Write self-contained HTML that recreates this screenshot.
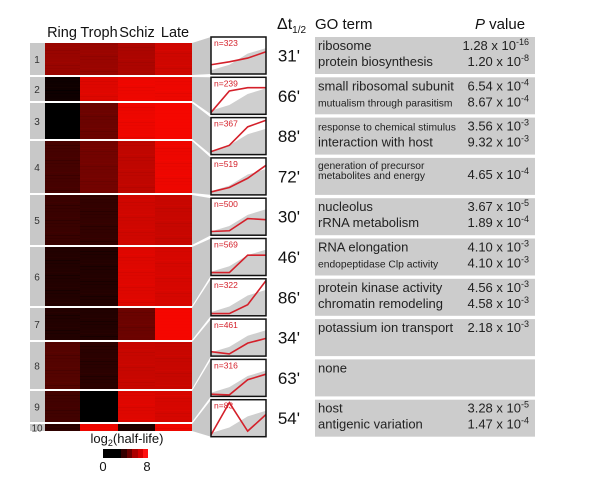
<!DOCTYPE html>
<html><head><meta charset="utf-8"><style>
body{margin:0;background:#fff;width:600px;height:489px;overflow:hidden}
svg{display:block;font-family:"Liberation Sans",Arial,sans-serif}
</style></head><body>
<svg id="fig" width="600" height="489" viewBox="0 0 600 489">
  <g id="heat"></g>
  <g id="conn"></g>
  <g id="plots"></g>
  <g id="go"></g>
  <g font-size="14.5" text-anchor="middle" fill="#111">
    <text x="62" y="37">Ring</text>
    <text x="99" y="37">Troph</text>
    <text x="137" y="37">Schiz</text>
    <text x="175" y="37">Late</text>
  </g>
  <text x="277" y="29" font-size="16" fill="#111">Δt<tspan font-size="10" dy="4">1/2</tspan></text>
  <text x="315" y="29" font-size="15" fill="#111">GO term</text>
  <text x="475" y="29" font-size="15" fill="#111"><tspan font-style="italic">P</tspan> value</text>
  <g>
    <text x="127" y="443" font-size="13" text-anchor="middle" fill="#111">log<tspan font-size="9" dy="3">2</tspan><tspan dy="-3">(half-life)</tspan></text>
    <rect x="103" y="449" width="18" height="9" fill="#000"/>
    <rect x="121" y="449" width="6" height="9" fill="#300"/>
    <rect x="127" y="449" width="5" height="9" fill="#6a0000"/>
    <rect x="132" y="449" width="6" height="9" fill="#a00"/>
    <rect x="138" y="449" width="5" height="9" fill="#d40000"/>
    <rect x="143" y="449" width="5" height="9" fill="#ff1010"/>
    <text x="103" y="471" font-size="13" text-anchor="middle" fill="#111">0</text>
    <text x="147" y="471" font-size="13" text-anchor="middle" fill="#111">8</text>
  </g>
</svg>
<script>
const clusterIds=[1,2,3,4,5,6,7,8,9,10];
const clusterBounds=[43,76,102,140,194,246,307,341,390,423,432];
const ringVals=[4.8,1.2,0.5,2.6,2.3,1.7,1.7,3.0,2.5,2.0];
const trophVals=[4.8,6.6,3.6,3.8,2.1,1.7,1.7,1.9,0.5,7.0];
const schizVals=[5.3,7.0,7.0,5.8,6.2,6.6,3.6,6.0,6.6,1.6];
const lateVals=[6.2,7.0,7.5,7.0,6.0,6.4,7.6,6.0,6.4,7.0];
const geneCounts=[323,239,367,519,500,569,322,461,316,83];
const halfLifeDelta=["31'","66'","88'","72'","30'","46'","86'","34'","63'","54'"];
const profRing=[0.25,0.05,0.08,0.08,0.10,0.08,0.06,0.12,0.06,0.05];
const profTroph=[0.33,0.63,0.25,0.20,0.12,0.08,0.06,0.06,0.04,0.92];
const profSchiz=[0.43,0.72,0.75,0.45,0.45,0.55,0.30,0.35,0.45,0.15];
const profLate=[0.60,0.72,0.93,0.80,0.42,0.55,0.95,0.48,0.60,0.60];
const bgProfile=[0.10,0.25,0.55,0.70];
const goTerms=[["ribosome","protein biosynthesis"],["small ribosomal subunit","mutualism through parasitism"],["response to chemical stimulus","interaction with host"],["generation of precursor","metabolites and energy"],["nucleolus","rRNA metabolism"],["RNA elongation","endopeptidase Clp activity"],["protein kinase activity","chromatin remodeling"],["potassium ion transport"],["none"],["host","antigenic variation"]];
const pMant=[["1.28","1.20"],["6.54","8.67"],["3.56","9.32"],["4.65"],["3.67","1.89"],["4.10","4.10"],["4.56","4.58"],["2.18"],[],["3.28","1.47"]];
const pExp=[["-16","-8"],["-4","-4"],["-3","-3"],["-4"],["-5","-4"],["-3","-3"],["-3","-3"],["-3"],[],["-5","-4"]];

const NS="http://www.w3.org/2000/svg";
function mk(parent,tag,attrs){const e=document.createElementNS(NS,tag);for(const k in attrs)e.setAttribute(k,attrs[k]);parent.appendChild(e);return e;}
function col(v){const t=Math.max(0,Math.min(1,(v-0.8)/6.4));const r=Math.round(Math.pow(t,1.0)*245);return `rgb(${r},${Math.round(r*0.03)},0)`;}
const colX=[45,80,118,155,192];
const heat=document.getElementById('heat'),conn=document.getElementById('conn'),plots=document.getElementById('plots'),go=document.getElementById('go');
const plotTop=i=>37+40.3*i, PH=37, PX=211, PW=55;
const small=new Set(["mutualism through parasitism","response to chemical stimulus","generation of precursor","metabolites and energy","endopeptidase Clp activity"]);
clusterIds.forEach((id,i)=>{
  const y0=clusterBounds[i]+(i?1:0), y1=clusterBounds[i+1]-1;
  const vals=[ringVals[i],trophVals[i],schizVals[i],lateVals[i]];
  const side=mk(heat,'rect',{x:30,y:y0,width:15,height:y1-y0,fill:'#c8c8c8'});
  
  
  const lab=mk(heat,'text',{x:37,y:(y0+y1)/2+4,'font-size':10,'text-anchor':'middle',fill:'#333'});lab.textContent=id;
  
  
  vals.forEach((v,c)=>{
    const r=mk(heat,'rect',{x:colX[c],y:y0,width:colX[c+1]-colX[c],height:y1-y0,fill:col(v)});
    
    
    for(let y=y0+1;y<y1-1;y+=3){
      const s=((y*7+c*13)%5)/5;
      mk(heat,'rect',{x:colX[c],y:y,width:colX[c+1]-colX[c],height:1,fill:col(v+(s-0.5)*0.8),opacity:0.6});
    }
  });
  const pt=plotTop(i);
  const cp=mk(conn,'polygon',{points:`192,${y0} ${PX},${pt} ${PX},${pt+PH} 192,${y1}`,fill:'#c8c8c8'});
  
  
  const g=mk(plots,'g',{});
  
  
  mk(g,'rect',{x:PX,y:pt,width:PW,height:PH,fill:'#fff'});
  const xs=[0,1/3,2/3,1].map(f=>PX+f*PW), Y=f=>pt+PH-f*PH;
  let bg=`${PX},${pt+PH} `+bgProfile.map((v,k)=>`${xs[k]},${Y(v)}`).join(' ')+` ${PX+PW},${pt+PH}`;
  mk(g,'polygon',{points:bg,fill:'#cfcfcf'});
  const pv=[profRing[i],profTroph[i],profSchiz[i],profLate[i]];
  const ln=mk(g,'polyline',{points:pv.map((v,k)=>`${xs[k]},${Y(v)}`).join(' '),fill:'none',stroke:'#d4202a','stroke-width':1.6});
  
  
  mk(g,'rect',{x:PX,y:pt,width:PW,height:PH,fill:'none',stroke:'#111','stroke-width':1.5});
  const nt=mk(g,'text',{x:PX+3,y:pt+9,'font-size':8.5,fill:'#d4202a'});nt.textContent='n='+geneCounts[i];
  const dt=mk(plots,'text',{x:300,y:pt+PH/2+6,'font-size':17,'text-anchor':'end',fill:'#111'});dt.textContent=halfLifeDelta[i];
  
  
  const b=mk(go,'g',{});
  
  
  mk(b,'rect',{x:315,y:pt,width:220,height:PH,fill:'#cccccc'});
  const two=i===3;
  goTerms[i].forEach((t,k)=>{
    const sm=small.has(t);
    const tx=mk(b,'text',{x:318,y:pt+(two?11+k*10:13+k*16),'font-size':sm?10.3:13,fill:'#222'});tx.textContent=t;
    
    
  });
  pMant[i].forEach((m,k)=>{
    const yy=two?pt+21:pt+13+k*16;
    const tx=mk(b,'text',{x:529,y:yy,'font-size':13,'text-anchor':'end',fill:'#222'});
    
    
    tx.appendChild(document.createTextNode(m+' x 10'));
    const sp=document.createElementNS(NS,'tspan');sp.setAttribute('font-size','9');sp.setAttribute('dy','-5');sp.textContent=pExp[i][k];tx.appendChild(sp);
  });
});
</script>
</body></html>
